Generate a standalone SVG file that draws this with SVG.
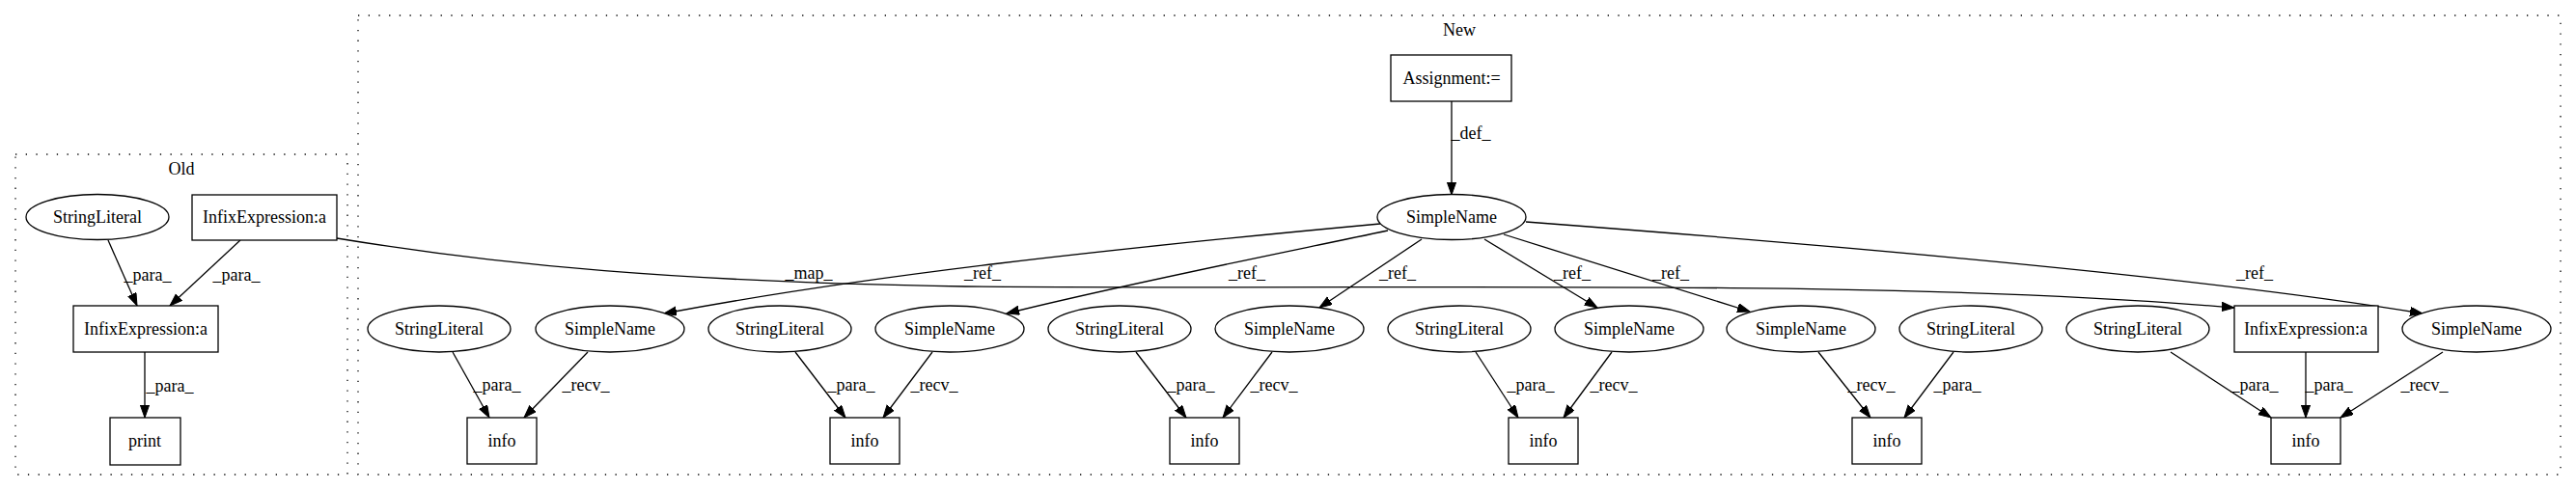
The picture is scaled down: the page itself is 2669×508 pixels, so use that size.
<svg xmlns="http://www.w3.org/2000/svg" width="2669" height="508" viewBox="0 0 2669 508" font-family="'Liberation Serif', 'Times New Roman', Times, 'DejaVu Serif', serif" font-size="18">
<style>
text{font-family:'Liberation Serif','Times New Roman',Times,'DejaVu Serif',serif;font-size:18px;fill:#000;text-anchor:middle}
.n{fill:#fff;stroke:#000;stroke-width:1.3}
.c{fill:none;stroke:#000;stroke-width:1.3;stroke-dasharray:1.3,9.4}
.e{fill:none;stroke:#000;stroke-width:1.3;marker-end:url(#arr)}
</style>
<defs>
<marker id="arr" markerWidth="14" markerHeight="10" refX="13" refY="4.6" orient="auto" markerUnits="userSpaceOnUse"><path d="M0,0 L13,4.6 L0,9.2 z" fill="#000" stroke="#000" stroke-width="1"/></marker>
</defs>
<rect width="2669" height="508" fill="#fff"/>
<g id="cluster_old"><rect class="c" x="16" y="160" width="344" height="332"/><text x="188" y="181">Old</text></g>
<g id="cluster_new"><rect class="c" x="371" y="16" width="2282" height="476"/><text x="1512" y="37">New</text></g>
<g id="edges">
<path class="e" d="M112,249 L142,317"/><text x="153" y="291">_para_</text>
<path class="e" d="M249,249 L176,317"/><text x="245" y="291">_para_</text>
<path class="e" d="M150,365 L150,433"/><text x="176" y="406">_para_</text>
<path class="e" d="M349,247 C520,275 700,292 1000,297 C1500,301 1950,288 2315,319"/><text x="838" y="289">_map_</text>
<path class="e" d="M1504,105 L1504,202"/><text x="1524" y="144">_def_</text>
<path class="e" d="M1430,232 C1150,258 900,285 688,325"/><text x="1018" y="289">_ref_</text>
<path class="e" d="M1438,239 C1300,268 1150,298 1043,325"/><text x="1292" y="289">_ref_</text>
<path class="e" d="M1473,248 L1367,319"/><text x="1448" y="289">_ref_</text>
<path class="e" d="M1538,248 L1655,319"/><text x="1629" y="289">_ref_</text>
<path class="e" d="M1558,243 L1813,323"/><text x="1731" y="289">_ref_</text>
<path class="e" d="M1581,230 C1950,258 2300,290 2510,325"/><text x="2336" y="289">_ref_</text>
<path class="e" d="M469,365 L507,433"/><text x="515" y="405">_para_</text>
<path class="e" d="M609,365 L543,433"/><text x="607" y="405">_recv_</text>
<path class="e" d="M824,365 L876,433"/><text x="882" y="405">_para_</text>
<path class="e" d="M966,365 L915,433"/><text x="968" y="405">_recv_</text>
<path class="e" d="M1177,365 L1229,433"/><text x="1234" y="405">_para_</text>
<path class="e" d="M1318,365 L1267,433"/><text x="1320" y="405">_recv_</text>
<path class="e" d="M1529,365 L1573,433"/><text x="1586" y="405">_para_</text>
<path class="e" d="M1670,365 L1620,433"/><text x="1672" y="405">_recv_</text>
<path class="e" d="M1884,365 L1938,433"/><text x="1939" y="405">_recv_</text>
<path class="e" d="M2024,365 L1973,433"/><text x="2028" y="405">_para_</text>
<path class="e" d="M2249,365 L2353,433"/><text x="2336" y="405">_para_</text>
<path class="e" d="M2389,365 L2389,433"/><text x="2413" y="405">_para_</text>
<path class="e" d="M2531,365 L2425,433"/><text x="2512" y="405">_recv_</text>
</g>
<g id="old_stringliteral"><ellipse class="n" cx="101" cy="225" rx="74" ry="23.5"/><text x="101" y="231">StringLiteral</text></g>
<g id="old_infix_top"><rect class="n" x="199" y="202" width="150" height="47"/><text x="274" y="231">InfixExpression:a</text></g>
<g id="old_infix_mid"><rect class="n" x="76" y="317" width="150" height="48"/><text x="151" y="347">InfixExpression:a</text></g>
<g id="old_print"><rect class="n" x="114" y="433" width="73" height="49"/><text x="150" y="463">print</text></g>
<g id="new_assignment"><rect class="n" x="1441" y="57" width="125" height="48"/><text x="1504" y="87">Assignment:=</text></g>
<g id="new_simplename_top"><ellipse class="n" cx="1504" cy="225" rx="77" ry="23.5"/><text x="1504" y="231">SimpleName</text></g>
<g id="sl1"><ellipse class="n" cx="455" cy="341" rx="74" ry="24"/><text x="455" y="347">StringLiteral</text></g>
<g id="sn1"><ellipse class="n" cx="632" cy="341" rx="77" ry="24"/><text x="632" y="347">SimpleName</text></g>
<g id="info1"><rect class="n" x="484" y="433" width="72" height="48"/><text x="520" y="463">info</text></g>
<g id="sl2"><ellipse class="n" cx="808" cy="341" rx="74" ry="24"/><text x="808" y="347">StringLiteral</text></g>
<g id="sn2"><ellipse class="n" cx="984" cy="341" rx="77" ry="24"/><text x="984" y="347">SimpleName</text></g>
<g id="info2"><rect class="n" x="860" y="433" width="72" height="48"/><text x="896" y="463">info</text></g>
<g id="sl3"><ellipse class="n" cx="1160" cy="341" rx="74" ry="24"/><text x="1160" y="347">StringLiteral</text></g>
<g id="sn3"><ellipse class="n" cx="1336" cy="341" rx="77" ry="24"/><text x="1336" y="347">SimpleName</text></g>
<g id="info3"><rect class="n" x="1212" y="433" width="72" height="48"/><text x="1248" y="463">info</text></g>
<g id="sl4"><ellipse class="n" cx="1512" cy="341" rx="74" ry="24"/><text x="1512" y="347">StringLiteral</text></g>
<g id="sn4"><ellipse class="n" cx="1688" cy="341" rx="77" ry="24"/><text x="1688" y="347">SimpleName</text></g>
<g id="info4"><rect class="n" x="1563" y="433" width="72" height="48"/><text x="1599" y="463">info</text></g>
<g id="sn5"><ellipse class="n" cx="1866" cy="341" rx="77" ry="24"/><text x="1866" y="347">SimpleName</text></g>
<g id="sl5"><ellipse class="n" cx="2042" cy="341" rx="74" ry="24"/><text x="2042" y="347">StringLiteral</text></g>
<g id="info5"><rect class="n" x="1919" y="433" width="72" height="48"/><text x="1955" y="463">info</text></g>
<g id="sl6"><ellipse class="n" cx="2215" cy="341" rx="74" ry="24"/><text x="2215" y="347">StringLiteral</text></g>
<g id="new_infix"><rect class="n" x="2315" y="317" width="149" height="48"/><text x="2389" y="347">InfixExpression:a</text></g>
<g id="sn6"><ellipse class="n" cx="2566" cy="341" rx="77" ry="24"/><text x="2566" y="347">SimpleName</text></g>
<g id="info6"><rect class="n" x="2353" y="433" width="72" height="48"/><text x="2389" y="463">info</text></g>
</svg>
